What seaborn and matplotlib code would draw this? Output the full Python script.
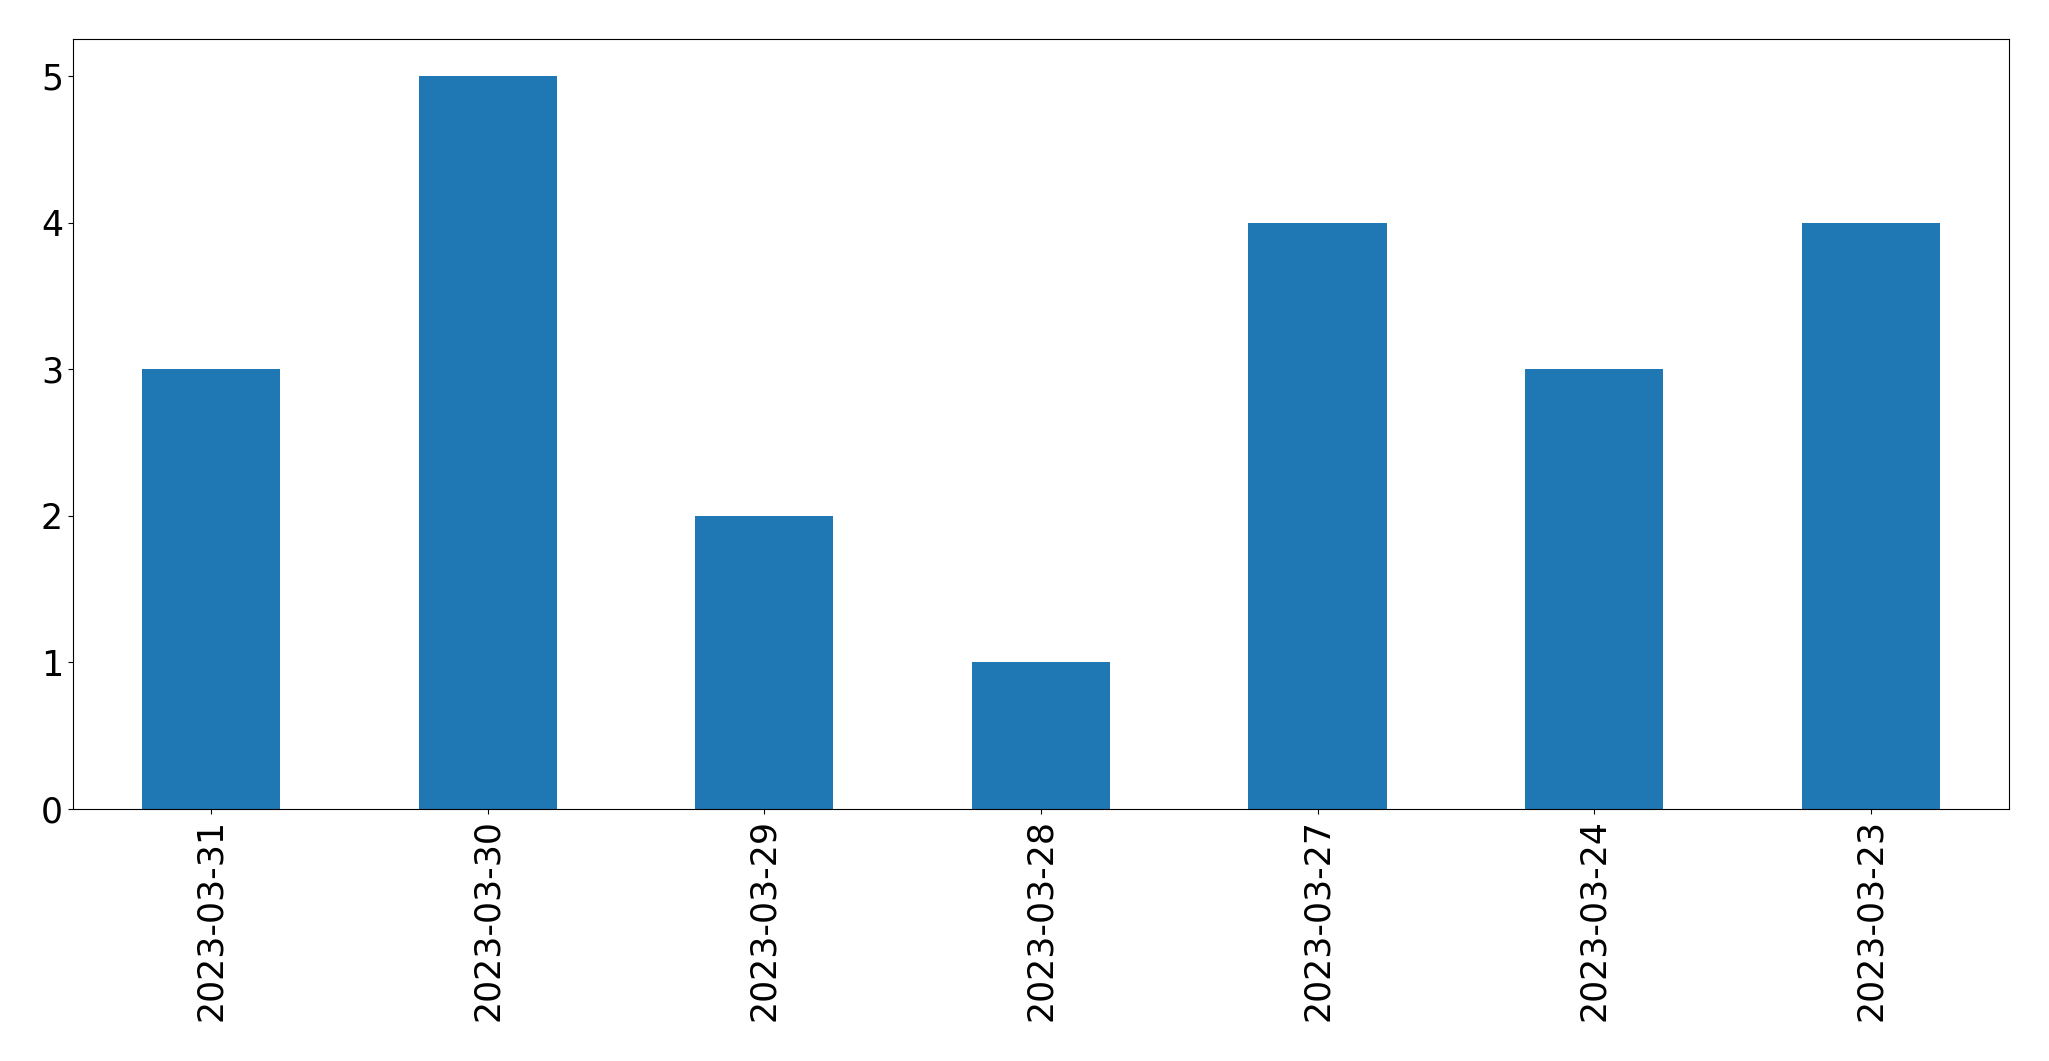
import matplotlib
matplotlib.use('Agg')
import matplotlib.pyplot as plt
import seaborn as sns
import pandas as pd

# counts per day
dates = ['2023-03-31', '2023-03-30', '2023-03-29', '2023-03-28',
         '2023-03-27', '2023-03-24', '2023-03-23']
counts = [3, 5, 2, 1, 4, 3, 4]

df = pd.DataFrame({'date': dates, 'count': counts})

fig, ax = plt.subplots(figsize=(20.49, 10.61), dpi=100)
sns.barplot(data=df, x='date', y='count', order=dates, color='#1f77b4',
            saturation=1, width=0.5, ax=ax)

ax.set_xlabel('')
ax.set_ylabel('')
ax.tick_params(axis='both', labelsize=25)
plt.setp(ax.get_xticklabels(), rotation=90)

plt.subplots_adjust(left=0.0355, right=0.9805, top=0.963, bottom=0.2375)
plt.savefig('out.png', dpi=100)
